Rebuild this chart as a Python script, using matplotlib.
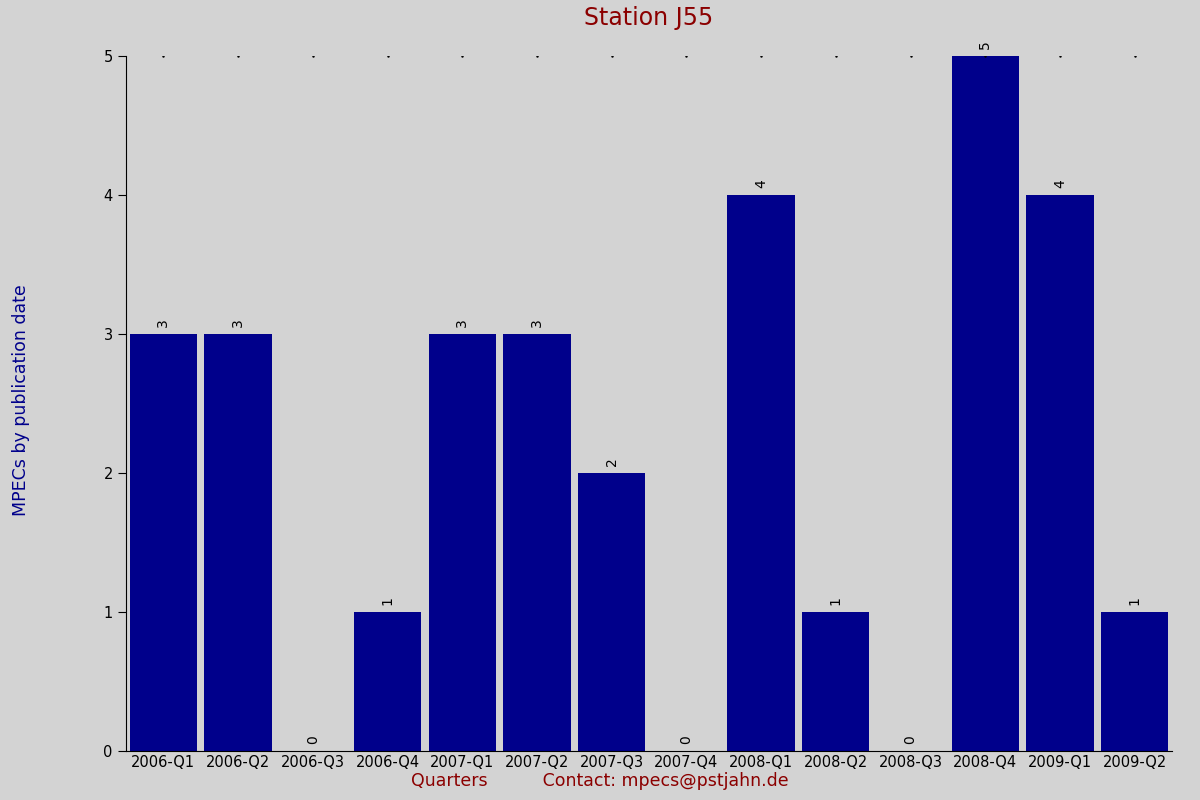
import matplotlib
matplotlib.use("Agg")
import matplotlib.pyplot as plt

quarters = ["2006-Q1","2006-Q2","2006-Q3","2006-Q4","2007-Q1","2007-Q2","2007-Q3",
            "2007-Q4","2008-Q1","2008-Q2","2008-Q3","2008-Q4","2009-Q1","2009-Q2"]
counts = [3,3,0,1,3,3,2,0,4,1,0,5,4,1]

bg = "#d3d3d3"
fig = plt.figure(figsize=(12,8), dpi=100, facecolor=bg)
ax = fig.add_axes([126/1200, 1-751/800, (1172-126)/1200, (751-56)/800], facecolor=bg)
x = range(len(quarters))
ax.bar(x, counts, width=0.9, color="#00008b")
for i, v in enumerate(counts):
    ax.text(i, v + 0.05, str(v), rotation=90, ha="center", va="bottom", fontsize=10, color="black")
    ax.plot(i, 5, marker=".", color="black", markersize=1.5)
ax.set_xlim(-0.5, len(quarters)-0.5)
ax.set_ylim(0, 5)
ax.set_xticks(list(x))
ax.set_xticklabels(quarters, fontsize=10.5)
ax.set_yticks(range(6))
ax.tick_params(axis="x", length=0, pad=3)
ax.tick_params(axis="y", length=6, labelsize=10.5)
for s in ["top", "right"]:
    ax.spines[s].set_visible(False)
ax.set_title("Station J55", color="#8b0000", fontsize=17, pad=22)
fig.text(0.01, 0.5, "MPECs by publication date", rotation=90, color="#00008b",
         fontsize=12.5, va="center", ha="left")
fig.text(0.5, 0.012, "Quarters          Contact: mpecs@pstjahn.de", color="#8b0000",
         fontsize=12.5, ha="center", va="bottom")
fig.savefig("out.png", facecolor=bg)
